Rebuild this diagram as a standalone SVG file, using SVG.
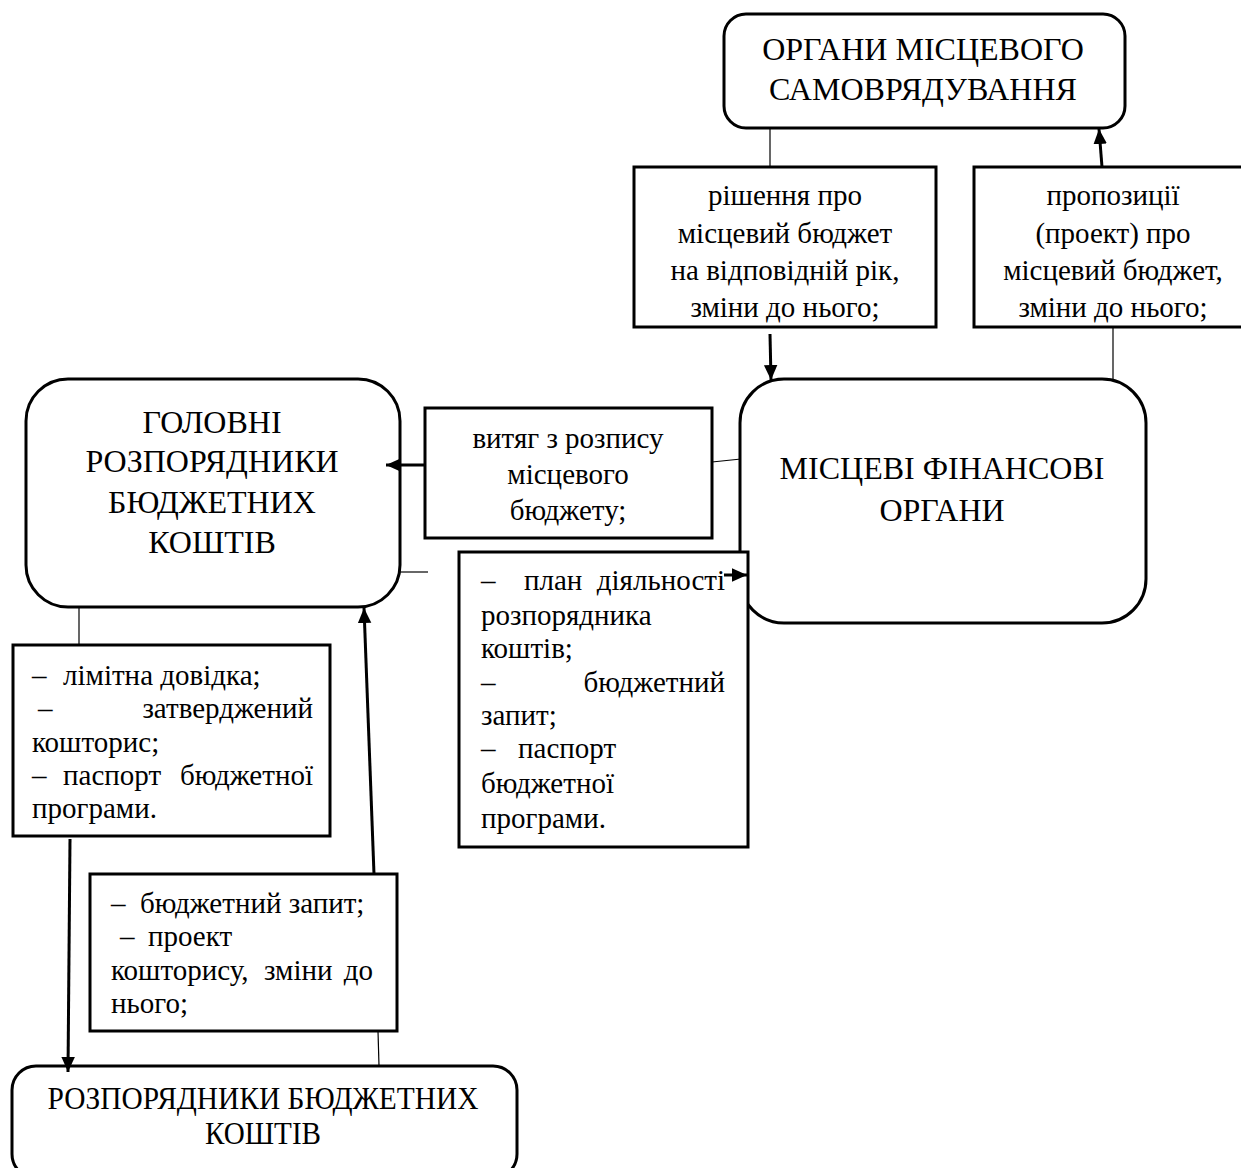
<svg xmlns="http://www.w3.org/2000/svg" width="1241" height="1168" viewBox="0 0 1241 1168">
<defs>
<marker id="ah" viewBox="0 0 10 10" refX="10" refY="5" markerWidth="15" markerHeight="15" markerUnits="userSpaceOnUse" orient="auto">
<path d="M0,0.5 L10,5 L0,9.5 z" fill="#000"/>
</marker>
</defs>
<style>
.n{fill:#fff;stroke:#000;stroke-width:3}
.b{fill:#fff;stroke:#000;stroke-width:3}
.h{font-family:"Liberation Serif","Times New Roman",serif;font-size:32px;fill:#000;text-anchor:middle}
.t{font-family:"Liberation Serif","Times New Roman",serif;font-size:29px;fill:#000;text-anchor:middle}
.l{font-family:"Liberation Serif","Times New Roman",serif;font-size:29px;fill:#000}
.r{font-family:"Liberation Serif","Times New Roman",serif;font-size:29px;fill:#000;text-anchor:end}
.c{stroke:#000;stroke-width:1.2;fill:none}
.a{stroke:#000;stroke-width:3;fill:none}
</style>
<rect width="1241" height="1168" fill="#fff"/>
<g id="connectors">
<line class="c" x1="770" y1="128" x2="770" y2="167"/>
<line class="c" x1="1113" y1="328" x2="1113" y2="379"/>
<line class="c" x1="712" y1="462" x2="741" y2="459"/>
<line class="c" x1="400" y1="572" x2="428" y2="572"/>
<line class="c" x1="79" y1="607" x2="79" y2="645"/>
<line class="c" x1="378" y1="1031" x2="379" y2="1066"/>
</g>
<g id="n-organy"><rect class="n" x="724" y="14" width="401" height="114" rx="22"/>
<text class="h" x="923" y="60">ОРГАНИ МІСЦЕВОГО</text>
<text class="h" x="923" y="100">САМОВРЯДУВАННЯ</text></g>
<g id="n-rishennia"><rect class="b" x="634" y="167" width="302" height="160"/>
<text class="t" x="785" y="205">рішення про</text>
<text class="t" x="785" y="243">місцевий бюджет</text>
<text class="t" x="785" y="280">на відповідній рік,</text>
<text class="t" x="785" y="317">зміни до нього;</text></g>
<g id="n-propozytsii"><rect class="b" x="974" y="167" width="280" height="160"/>
<text class="t" x="1113" y="205">пропозиції</text>
<text class="t" x="1113" y="243">(проект) про</text>
<text class="t" x="1113" y="280">місцевий бюджет,</text>
<text class="t" x="1113" y="317">зміни до нього;</text></g>
<g id="n-mfo"><rect class="n" x="740" y="379" width="406" height="244" rx="44"/>
<text class="h" x="942" y="479">МІСЦЕВІ ФІНАНСОВІ</text>
<text class="h" x="942" y="521">ОРГАНИ</text></g>
<g id="n-holovni"><rect class="n" x="26" y="379" width="374" height="228" rx="42"/>
<text class="h" x="212" y="433">ГОЛОВНІ</text>
<text class="h" x="212" y="472">РОЗПОРЯДНИКИ</text>
<text class="h" x="212" y="513">БЮДЖЕТНИХ</text>
<text class="h" x="212" y="553">КОШТІВ</text></g>
<g id="n-vytiah"><rect class="b" x="425" y="408" width="287" height="130"/>
<text class="t" x="568" y="448">витяг з розпису</text>
<text class="t" x="568" y="484">місцевого</text>
<text class="t" x="568" y="520">бюджету;</text></g>
<g id="n-plan"><rect class="b" x="459" y="552" width="289" height="295"/>
<text class="l" x="481" y="590">–</text><text class="l" x="524" y="590">план</text><text class="r" x="725" y="590">діяльності</text>
<text class="l" x="481" y="625">розпорядника</text>
<text class="l" x="481" y="658">коштів;</text>
<text class="l" x="481" y="692">–</text><text class="r" x="725" y="692">бюджетний</text>
<text class="l" x="481" y="725">запит;</text>
<text class="l" x="481" y="758">–</text><text class="l" x="518" y="758">паспорт</text>
<text class="l" x="481" y="793">бюджетної</text>
<text class="l" x="481" y="828">програми.</text></g>
<g id="n-limitna"><rect class="b" x="13" y="645" width="317" height="191"/>
<text class="l" x="32" y="685">–</text><text class="l" x="63" y="685">лімітна довідка;</text>
<text class="l" x="38" y="718">–</text><text class="r" x="313" y="718">затверджений</text>
<text class="l" x="32" y="752">кошторис;</text>
<text class="l" x="32" y="785">–</text><text class="l" x="63" y="785">паспорт</text><text class="r" x="313" y="785">бюджетної</text>
<text class="l" x="32" y="818">програми.</text></g>
<g id="n-zapyt"><rect class="b" x="90" y="874" width="307" height="157"/>
<text class="l" x="111" y="913">–</text><text class="l" x="140" y="913">бюджетний запит;</text>
<text class="l" x="120" y="946">–</text><text class="l" x="148" y="946">проект</text>
<text class="l" x="111" y="980">кошторису,</text><text class="l" x="264" y="980">зміни</text><text class="r" x="373" y="980">до</text>
<text class="l" x="111" y="1013">нього;</text></g>
<g id="n-rozporiadnyky"><rect class="n" x="12" y="1066" width="505" height="112" rx="24"/>
<text class="h" x="263" y="1109" textLength="431" lengthAdjust="spacingAndGlyphs">РОЗПОРЯДНИКИ БЮДЖЕТНИХ</text>
<text class="h" x="263" y="1144" textLength="116" lengthAdjust="spacingAndGlyphs">КОШТІВ</text></g>
<g id="arrows">
<line class="a" x1="770" y1="334" x2="771" y2="380" marker-end="url(#ah)"/>
<line class="a" x1="1102" y1="167" x2="1099" y2="129" marker-end="url(#ah)"/>
<line class="a" x1="425" y1="465" x2="386" y2="465" marker-end="url(#ah)"/>
<line class="a" x1="724" y1="575" x2="747" y2="575" marker-end="url(#ah)"/>
<line class="a" x1="70" y1="839" x2="68" y2="1072" marker-end="url(#ah)"/>
<line class="a" x1="374" y1="874" x2="364" y2="608" marker-end="url(#ah)"/>
</g>
</svg>
